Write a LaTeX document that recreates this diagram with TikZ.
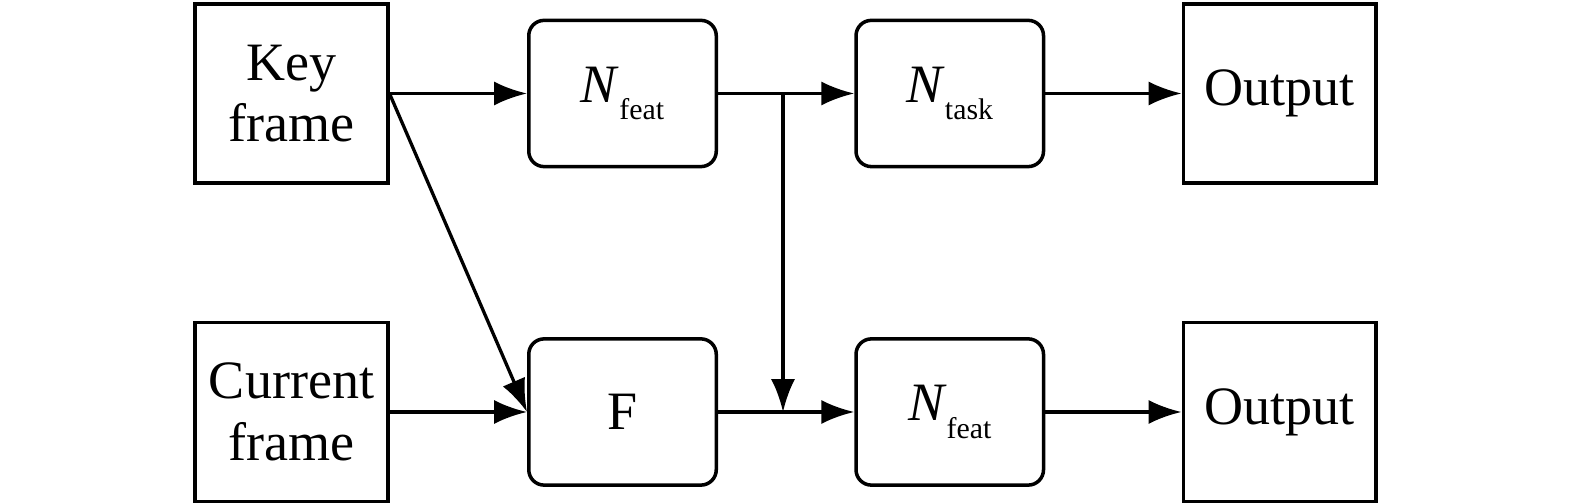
\documentclass[tikz,border=0pt]{standalone}
\usepackage{fontspec}
\setmainfont{Liberation Serif}
\usetikzlibrary{positioning,arrows.meta}
\newcommand{\sub}[2]{\textit{#1}\raisebox{-4pt}{\fontsize{6.8}{7}\selectfont #2}}
\begin{document}
\begin{tikzpicture}
		\tikzset{sq/.style={draw,line width=.8pt,minimum width=1.54cm,minimum height=1.43cm,align=center,inner sep=0pt,font=\fontsize{12.3}{14}\selectfont},
			rnd/.style={draw,line width=.8pt,rounded corners=3.5pt,minimum width=1.5cm,minimum height=1.17cm,inner sep=0pt,font=\fontsize{12.3}{14}\selectfont},
			com/.style={-{Latex[length=7.5pt,width=5.5pt]},line width=.75pt}}
		\useasboundingbox (0,0) rectangle (12.6,4.032);
		\node[sq] (k) at (2.332,3.284) {Key\\frame};
		\node[sq] (c) [below=1.09cm of k] {Current\\frame};
		\node[rnd] (f) [right=1.1cm of k] {\sub{N}{feat}};
		\node[rnd] (fl) [right=1.1cm of c] {F};
		\node[rnd] (t) [right=1.09cm of f] {\sub{N}{task}};
		\node[rnd] (n) [right=1.09cm of fl] {\sub{N}{feat}};
		\node[sq] (o1) [right=1.09cm of t] {Output};
		\node[sq] (o2) [right=1.09cm of n] {Output};
		\coordinate[right=5.2mm of f.east] (j);

		\draw[com] (k.east) -- (f.west);
		\draw[com] (k.east) -- (fl.west);
		\draw[com] (c.east) -- (fl.west);
		\draw[com] (f.east) -- (t.west);
		\draw[com] (j) -- (j |- fl.east);
		\draw[com] (fl.east) -- (n.west);
		\draw[com] (t.east) -- (o1.west);
		\draw[com] (n.east) -- (o2.west);
\end{tikzpicture}
\end{document}
